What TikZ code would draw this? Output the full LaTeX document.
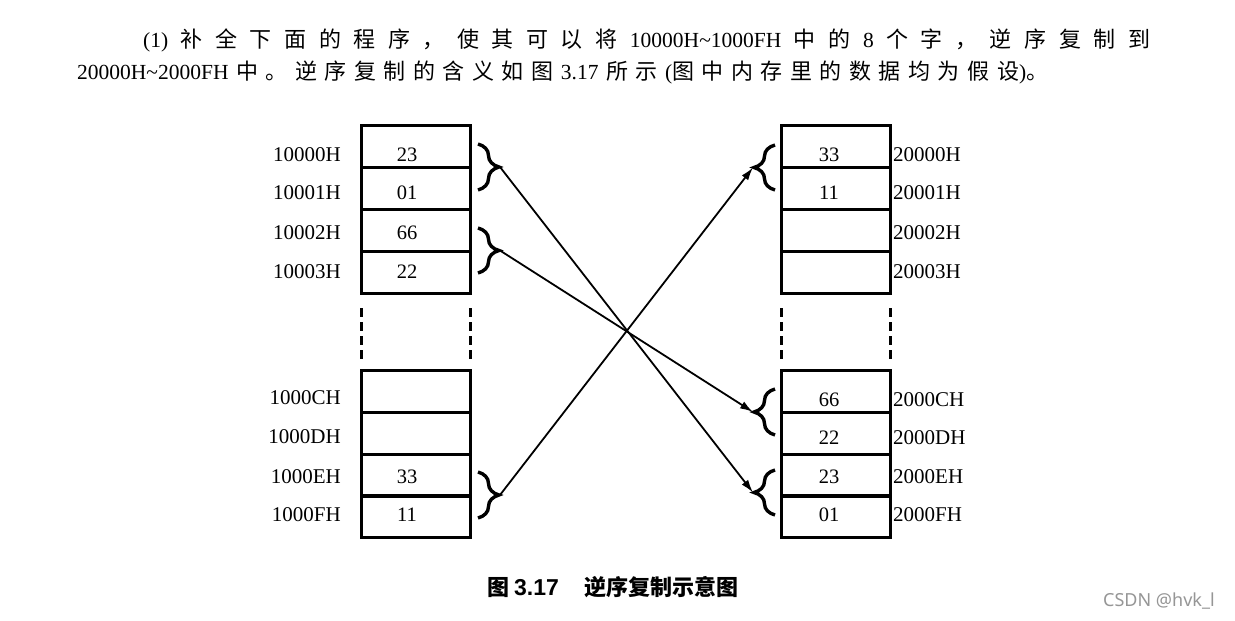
\documentclass[tikz,border=0pt]{standalone}
\usepackage{fontspec}
\setmainfont{Liberation Serif}
\newfontfamily\cjk{Noto Sans CJK SC}
\newfontfamily\capsans{Liberation Sans}
\newfontfamily\wmfont{Noto Sans}
\usetikzlibrary{decorations.pathreplacing,arrows.meta}
\definecolor{wmgray}{RGB}{150,150,150}
\newcommand\gl{\hspace{0pt plus 1fil}}
\newcommand\C[1]{{\cjk\fontsize{22}{24}\selectfont #1}}
\tikzset{
  cell/.style={draw, line width=3pt, minimum width=109pt, minimum height=42pt, inner sep=0pt, outer sep=0pt},
  addr/.style={font=\fontsize{21}{24}\selectfont, inner sep=0pt},
  val/.style={font=\fontsize{20.5}{24}\selectfont, inner sep=0pt},
  brc/.style={decorate, decoration={brace, amplitude=21pt}, line width=3.4pt},
  brcm/.style={decorate, decoration={brace, amplitude=21pt, mirror}, line width=3.4pt},
  dashline/.style={line width=3pt, dash pattern=on 9pt off 5pt},
  link/.style={-{Latex[length=13pt,width=8pt]}, line width=1.8pt},
  txt/.style={inner sep=0pt, anchor=west, font=\fontsize{21.5}{24}\selectfont}
}
\begin{document}
\begin{tikzpicture}[x=1pt,y=-1pt]
\fill[white] (0,0) rectangle (1235,621);
\useasboundingbox (0,0) rectangle (1235,621);

% heading text
\node[txt] (line1) at (143,40) {\makebox[1007pt][s]{(1)\gl\C{补}\gl\C{全}\gl\C{下}\gl\C{面}\gl\C{的}\gl\C{程}\gl\C{序}\gl\C{，}\gl\C{使}\gl\C{其}\gl\C{可}\gl\C{以}\gl\C{将}\gl 10000H\textasciitilde 1000FH\gl\C{中}\gl\C{的}\gl 8\gl\C{个}\gl\C{字}\gl\C{，}\gl\C{逆}\gl\C{序}\gl\C{复}\gl\C{制}\gl\C{到}}};
\node[txt] (line2) at (77,72) {\makebox[971pt][s]{20000H\textasciitilde 2000FH\gl\C{中}\gl\C{。}\gl\C{逆}\gl\C{序}\gl\C{复}\gl\C{制}\gl\C{的}\gl\C{含}\gl\C{义}\gl\C{如}\gl\C{图}\gl 3.17\gl\C{所}\gl\C{示}\gl(\C{图}\gl\C{中}\gl\C{内}\gl\C{存}\gl\C{里}\gl\C{的}\gl\C{数}\gl\C{据}\gl\C{均}\gl\C{为}\gl\C{假}\gl\C{设})\C{。}}};

% left memory
\foreach \n/\y/\ty/\a/\v in {0/146/155/10000H/23, 1/188/193/10001H/01, 2/230/233/10002H/66, 3/272/272/10003H/22, C/391/398/1000CH/{}, D/433/437/1000DH/{}, E/475/477/1000EH/33, F/516/515/1000FH/11} {
  \node[cell] (L\n) at (415.5,\y) {};
  \node[addr,anchor=east] (aL\n) at (341,\ty) {\a};
  \node[val] (vL\n) at (407,\ty) {\v};
}
% right memory
\foreach \n/\y/\ty/\a/\v in {0/146/155/20000H/33, 1/188/193/20001H/11, 2/230/233/20002H/{}, 3/272/272/20003H/{}, C/391/400/2000CH/66, D/433/438/2000DH/22, E/475/477/2000EH/23, F/516/515/2000FH/01} {
  \node[cell] (R\n) at (836,\y) {};
  \node[addr,anchor=west] (aR\n) at (893,\ty) {\a};
  \node[val] (vR\n) at (829,\ty) {\v};
}
\draw[dashline] ([yshift=-15pt]L3.south west) -- ([yshift=8pt]LC.north west);
\draw[dashline] ([yshift=-15pt]L3.south east) -- ([yshift=8pt]LC.north east);
\draw[dashline] ([yshift=-15pt]R3.south west) -- ([yshift=8pt]RC.north west);
\draw[dashline] ([yshift=-15pt]R3.south east) -- ([yshift=8pt]RC.north east);

% braces
\draw[brc] (478,144) -- (478,190);
\draw[brc] (478,228) -- (478,273);
\draw[brc] (478,472) -- (478,518);
\draw[brcm] (775,145) -- (775,190);
\draw[brcm] (775,389) -- (775,435);
\draw[brcm] (775,470) -- (775,515);
\coordinate (tL0) at (500,167);
\coordinate (tL2) at (500,250.5);
\coordinate (tLE) at (500,495);
\coordinate (tR0) at (753,167.5);
\coordinate (tRC) at (753,412);
\coordinate (tRE) at (753,492.5);

% arrows
\draw[link] (tL0) -- (tRE);
\draw[link] (tL2) -- (tRC);
\draw[link] (tLE) -- (tR0);

% caption
\node[inner sep=0pt, anchor=west] (cap) at (487,587) {{\cjk\bfseries\fontsize{22}{24}\selectfont 图}\hspace{5pt}{\capsans\bfseries\fontsize{23}{24}\selectfont 3.17}\hspace{26pt}{\cjk\bfseries\fontsize{22}{24}\selectfont 逆序复制示意图}};
% watermark
\node[inner sep=0pt, anchor=west, text=wmgray, font=\wmfont\fontsize{18}{20}\selectfont] (wm) at (1103,601) {CSDN @hvk\_l};
\end{tikzpicture}
\end{document}
